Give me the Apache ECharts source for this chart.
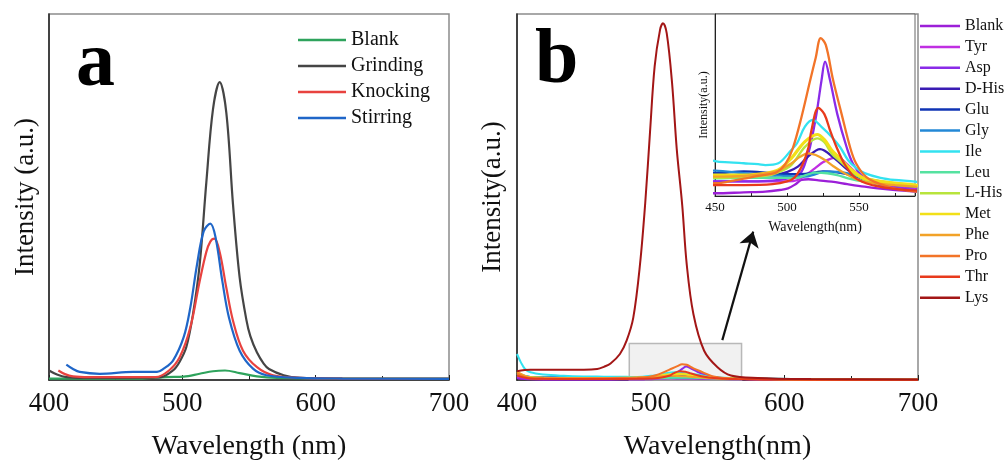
<!DOCTYPE html>
<html><head><meta charset="utf-8">
<script src="https://cdn.jsdelivr.net/npm/echarts@6/dist/echarts.min.js"></script>
<style>html,body{margin:0;padding:0;background:#fff}#c{width:1008px;height:466px}</style>
</head><body><div id="c"></div>
<script>
// ---------- Panel a data (x: wavelength nm, y: intensity a.u., 0-100 scale) ----------
const namesA = ['Blank', 'Grinding', 'Knocking', 'Stirring'];
const aBlank = [[400,0.4],[450,0.4],[470,0.4],[488,0.8],[501,0.9],[513,1.7],[523,2.4],[532,2.6],[543,1.9],[556,1],[571,0.6],[620,0.4],[700,0.4]];
const aGrinding = [[400,2.6],[406,1.5],[413,0.8],[425,0.6],[450,0.6],[483,0.7],[493,2.6],[498,5],[503,9],[508,18],[513,31.5],[518,54],[523,74],[528,81.4],[533,73],[538,48],[543,28],[548,16.5],[551,12],[556,7.5],[561,4.5],[565,3],[576,1.3],[588,0.6],[620,0.4],[700,0.3]];
const aKnocking = [[407,2.6],[412,1.6],[418,1],[430,0.8],[480,0.8],[490,2.6],[498,6.2],[506,14.4],[513,27],[518,35],[521,37.8],[524,38.6],[528,35],[533,25.2],[538,16.2],[545.5,8],[556,3.5],[568,1.3],[588,0.6],[620,0.4],[700,0.3]];
const aStirring = [[413,4.2],[418,3],[423,2.2],[438,1.7],[463,2.2],[481,2.2],[486,3.1],[493,5.3],[501,11.7],[506,19.8],[511,31.5],[516,40.6],[521,42.7],[525,38.8],[530,27],[535,17],[543,8],[553,3.1],[563,1.3],[588,0.6],[620,0.4],[700,0.3]];

// ---------- Panel b data (main scale 0-2000, inset shows 0-100 of same units) ----------
const namesB = ['Blank','Tyr','Asp','D-His','Glu','Gly','Ile','Leu','L-His','Met','Phe','Pro','Thr','Lys'];
const bBlank = [[400,10],[410,4],[420,2],[435,1.5],[450,1.5],[470,2],[485,2.4],[495,3.3],[500.7,4.2],[506,6.5],[510,8.8],[515,9.2],[522,8.6],[531,7.9],[542,6.5],[554,5.1],[570,3.6],[589,2.4],[620,1.5],[660,1],[700,0.8]];
const bTyr = [[400,18],[410,9.5],[420,8.5],[435,8],[450,8],[470,8],[490,8],[500,8],[507.6,8.8],[513,11.5],[519.4,15.2],[525,18.5],[531,20.7],[535.4,21.2],[541,18],[547.2,13.4],[553,10.2],[558.8,7.9],[570,5.5],[589,4],[620,2.2],[660,1.3],[700,1]];
const bAsp = [[400,22],[410,10],[420,8.5],[435,8],[450,8],[470,8],[490,8.5],[500,9.5],[505,10.5],[509,12],[512.5,17.6],[516,26.8],[520.5,45],[524,63.4],[526.5,73.8],[530,63.4],[535,45],[541.5,26.8],[546,17.6],[553,10.3],[560,7],[570,5],[580,4],[590,3.2],[620,2],[660,1.2],[700,1]];
const bDHis = [[400,28],[410,14],[420,12],[435,11.5],[450,11.5],[470,11.5],[490,11.5],[500.7,13.4],[507.6,16.1],[514.6,21.6],[523,25.8],[533,20.7],[542.4,14.3],[554,8.8],[570,6.5],[589,5],[620,2.8],[660,1.5],[700,1]];
const bGlu = [[400,30],[410,16],[420,14],[435,13],[450,12.5],[470,13.5],[490,12.5],[500,12],[510,12],[520,13],[525,13.5],[535,13],[545,11.5],[555,9],[570,7],[589,5.5],[620,3],[660,1.8],[700,1.2]];
const bGly = [[400,38],[410,17],[420,15],[435,14.5],[450,13.9],[470,12.5],[485,11.5],[500,11],[512.5,10.6],[520,12],[526.4,13.4],[535,13.2],[542.4,12.5],[554,9.7],[570,7.5],[589,6],[620,3.2],[660,1.8],[700,1.2]];
const bIle = [[400,142],[403,95],[406,60],[410,42],[420,30],[435,23],[450,19.2],[460,18.5],[470,18],[480,17.5],[485,17],[494,18],[503,25.3],[507,29],[512.5,38.1],[518,41.8],[524,38],[531,32.6],[537,26.8],[542.4,19.8],[548,15.5],[554,12.6],[565,10],[575,8.8],[589,7.9],[620,4],[660,2.2],[700,1.5]];
const bLeu = [[400,26],[410,13],[420,11],[435,10],[450,9.7],[470,10],[490,10],[507.6,10],[513,11.5],[519.4,12.8],[528,12.5],[535,11.5],[542.4,9.7],[554,7.9],[570,6.5],[589,5.1],[620,3],[660,1.6],[700,1.2]];
const bLHis = [[400,32],[410,14],[420,11.5],[435,10.5],[450,10],[470,10.5],[485,11],[494,13],[503,17],[512.5,27],[521,31.7],[526,29.5],[531,23.4],[537,19],[542.4,15.2],[548,11.5],[554,9],[570,7],[589,5.5],[620,3],[660,1.5],[700,1]];
const bMet = [[400,42],[410,15],[420,12.5],[435,11.5],[450,11.5],[470,11.5],[485,12.5],[494,14.3],[503,20.7],[512.5,29.9],[521,33.8],[526,31],[531,25.3],[537,20.5],[542.4,16.1],[548,12.5],[554,9.7],[570,7.5],[589,6],[620,3],[660,1.5],[700,1]];
const bPhe = [[400,46],[410,14],[420,11.5],[435,11],[450,10.6],[470,11],[485,12.5],[494,13.9],[503,17.9],[509,21.5],[514.6,23.4],[520,22.5],[526.4,19.8],[532,16.5],[538,13.4],[549.4,8.8],[560,7],[575,6],[589,5.1],[620,2.8],[660,1.3],[700,1]];
const bPro = [[400,35],[410,10],[420,8],[435,7.5],[450,7],[460,8],[470,9.5],[480,11],[488,12],[493,13],[499,17.6],[504,26],[510,43],[516,63],[520,76],[523.5,86.7],[527,83],[532,64],[538,45],[544,26.5],[548,18],[555,10.5],[565,6.5],[575,4],[590,2.4],[620,1.5],[660,1],[700,0.8]];
const bThr = [[400,24],[410,8],[420,6.5],[435,6],[450,6],[470,6],[490,6.5],[500,8],[505.5,10.3],[511,17.6],[515,26.8],[517,36],[521.8,48.4],[526,45],[530,36],[534.5,26.8],[540,17.6],[547,10.3],[555,7],[565,5],[580,3.5],[590,3],[620,2],[660,1.2],[700,0.8]];
const bLys = [[400,48],[410,56],[430,56],[450,56],[460,60],[465,72],[470,90],[477,142],[482,215],[487,341],[492,630],[496,974],[499.5,1353],[503,1715],[507,1913],[509.2,1950],[512,1895],[516,1624],[519.5,1263],[523.6,956],[527,630],[532,359],[540,160],[550,70],[560,25],[580,11],[620,5],[700,3]];

// zoom box & arrow (data coordinates of panel b)
const zoomBox = [[484, 0], [568, 200]];
const arrowLine = [[553.6, 218], [576.7, 811]];

const dataA = [aBlank, aGrinding, aKnocking, aStirring];
const dataB = [bBlank, bTyr, bAsp, bDHis, bGlu, bGly, bIle, bLeu, bLHis, bMet, bPhe, bPro, bThr, bLys];

const colorsA = ['#2ea35c', '#454545', '#e8423f', '#1f66c8'];
const colorsB = ['#9c1fd8', '#c02fe2', '#8a2be8', '#3a1cb4', '#1034b4', '#2388d6', '#33e2f0', '#55e2a0', '#b8e43c', '#f2e018', '#f2a228', '#f27428', '#e83a1c', '#a31616'];

const FONT = "'Liberation Serif','Times New Roman',serif";
const TXT = '#111';
const SMOOTH = 0.35;

const series = [];
namesA.forEach((n, i) => {
  series.push({
    name: n, type: 'line', xAxisIndex: 0, yAxisIndex: 0, data: dataA[i],
    showSymbol: false, symbol: 'none', smooth: SMOOTH,
    color: colorsA[i], lineStyle: { color: colorsA[i], width: 2.2 }
  });
});
namesB.forEach((n, i) => {
  const s = {
    name: 'b:' + n, type: 'line', xAxisIndex: 1, yAxisIndex: 1, data: dataB[i],
    showSymbol: false, symbol: 'none', smooth: SMOOTH,
    color: colorsB[i], lineStyle: { color: colorsB[i], width: 2 }
  };
  if (n === 'Lys') {
    s.markArea = {
      silent: true,
      itemStyle: { color: 'rgba(200,200,200,0.25)', borderColor: '#b8b8b8', borderWidth: 1.5 },
      data: [[{ coord: zoomBox[0] }, { coord: zoomBox[1] }]]
    };
    s.markLine = {
      silent: true, symbol: ['none', 'arrow'], symbolSize: 15,
      label: { show: false },
      lineStyle: { color: '#111', width: 2.2, type: 'solid' },
      itemStyle: { color: '#111' },
      data: [[{ coord: arrowLine[0] }, { coord: arrowLine[1] }]]
    };
  }
  series.push(s);
});
namesB.forEach((n, i) => {
  if (n === 'Lys') return;
  series.push({
    name: 'b:' + n, type: 'line', xAxisIndex: 2, yAxisIndex: 2, data: dataB[i],
    showSymbol: false, symbol: 'none', smooth: SMOOTH, clip: true,
    color: colorsB[i], lineStyle: { color: colorsB[i], width: n === 'Met' ? 3.2 : 2.3 }
  });
});

function xAx(grid, min, max, interval, name, fs, nfs, gap, margin) {
  return {
    gridIndex: grid, type: 'value', min: min, max: max, interval: interval,
    axisLine: { lineStyle: { color: '#222', width: grid === 2 ? 1 : 1.5 } },
    axisTick: { inside: true, length: grid === 2 ? 3 : 5, lineStyle: { color: '#222' } },
    minorTick: { show: true, splitNumber: 2, length: grid === 2 ? 3 : 4, lineStyle: { color: '#222' } },
    splitLine: { show: false },
    axisLabel: { fontFamily: FONT, fontSize: fs, color: TXT, margin: margin, showMaxLabel: grid !== 2 },
    name: name, nameLocation: 'middle', nameGap: gap,
    nameTextStyle: { fontFamily: FONT, fontSize: nfs, color: TXT }
  };
}
function yAx(grid, max, name, nfs, gap) {
  return {
    gridIndex: grid, type: 'value', min: 0, max: max,
    axisLine: { show: true, lineStyle: { color: '#222', width: grid === 2 ? 1 : 1.5 } },
    axisTick: { show: false }, axisLabel: { show: false }, splitLine: { show: false },
    name: name, nameLocation: 'middle', nameGap: gap,
    nameTextStyle: { fontFamily: FONT, fontSize: nfs, color: TXT }
  };
}

const option = {
  animation: false,
  backgroundColor: '#fff',
  grid: [
    { left: 49, top: 14, width: 400, height: 369, show: true, borderColor: '#8c8c8c', borderWidth: 1.5 },
    { left: 517, top: 14, width: 401, height: 369, show: true, borderColor: '#8c8c8c', borderWidth: 1.5 },
    { left: 715, top: 14, width: 200, height: 182, show: true, borderColor: '#666', borderWidth: 1, backgroundColor: '#fff' }
  ],
  xAxis: [
    xAx(0, 400, 700, 100, 'Wavelength (nm)', 27, 28, 53, 10),
    xAx(1, 400, 700, 100, 'Wavelength(nm)', 27, 28, 53, 10),
    xAx(2, 450, 589, 50, 'Wavelength(nm)', 13, 14, 24, 5)
  ],
  yAxis: [
    yAx(0, 100, 'Intensity (a.u.)', 27, 10),
    yAx(1, 2000, 'Intensity(a.u.)', 27, 11),
    yAx(2, 100, 'Intensity(a.u.)', 12, 5)
  ],
  legend: [
    {
      data: namesA, orient: 'vertical', left: 298, top: 30, padding: 0, icon: 'rect',
      itemWidth: 48, itemHeight: 2.5, itemGap: 6,
      textStyle: { fontFamily: FONT, fontSize: 20, lineHeight: 20, color: TXT }
    },
    {
      data: namesB.map(n => 'b:' + n), orient: 'vertical', left: 920, top: 18, padding: 0, icon: 'rect',
      itemWidth: 40, itemHeight: 2.5, itemGap: 4.9,
      formatter: n => n.replace('b:', ''),
      textStyle: { fontFamily: FONT, fontSize: 16, lineHeight: 15, color: TXT }
    }
  ],
  graphic: [
    { type: 'text', x: 76, y: 65, style: { text: 'a', font: 'bold 78px ' + FONT, fill: '#000', verticalAlign: 'middle' } },
    { type: 'text', x: 535, y: 62, style: { text: 'b', font: 'bold 78px ' + FONT, fill: '#000', verticalAlign: 'middle' } }
  ],
  series: series
};
const chart = echarts.init(document.getElementById('c'));
chart.setOption(option);
</script></body></html>
